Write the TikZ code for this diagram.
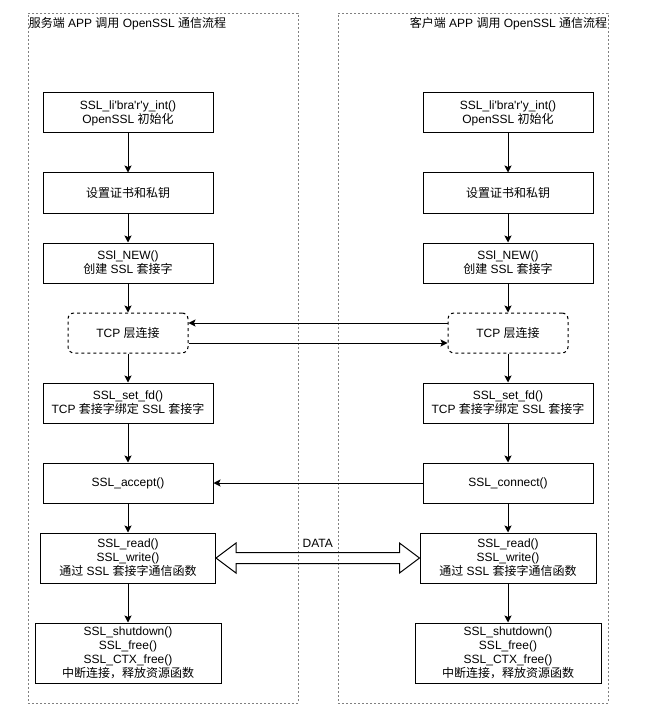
\documentclass[tikz,border=0pt]{standalone}
\usepackage{fontspec}
\setmainfont{Liberation Sans}
\newfontfamily\zhfont{Noto Sans CJK SC}
\newcommand{\zh}[1]{{\zhfont #1}}
\usetikzlibrary{calc, arrows.meta, positioning}

\begin{document}
\begin{tikzpicture}
    [
        x=1pt, y=1pt, node distance=70pt, auto,
        >={Stealth[length=7pt,width=7pt,inset=1.5pt]},
        font=\fontsize{12pt}{14pt}\selectfont,
        box/.style={draw, line width=1pt, align=center, inner sep=0pt, minimum width=170pt, minimum height=40pt},
        tcpbox/.style={draw, line width=1pt, dash pattern=on 3pt off 3pt, rounded corners=6pt, align=center, inner sep=0pt, minimum width=120pt, minimum height=40pt},
        lane/.style={draw=gray, line width=0.8pt, dash pattern=on 2pt off 2pt, inner sep=0pt, minimum width=270pt, minimum height=690pt}
    ]
    \tikzstyle{line} = [draw, ->, line width=1pt]
    \tikzstyle{lanetitle} = [inner xsep=1pt, inner ysep=2pt, yshift=-3pt]

    \useasboundingbox (0,0) rectangle (657,-714);

    % Lanes
    \node[lane] (server) at (163,-358) {};
    \node[lane] (client) at (473,-358) {};
    \node[lanetitle, anchor=north west] (server_title) at (server.north west) {\zh{服务端} APP \zh{调用} OpenSSL \zh{通信流程}};
    \node[lanetitle, anchor=north east] (client_title) at (client.north east) {\zh{客户端} APP \zh{调用} OpenSSL \zh{通信流程}};

    % Server
    \begin{scope}
        \node[box] (s_init) at (128,-113) {SSL\_li\textquotesingle bra\textquotesingle r\textquotesingle y\_int()\\OpenSSL \zh{初始化}};
        \node[box, below of=s_init, node distance=80pt] (s_cert) {\zh{设置证书和私钥}};
        \node[box, below of=s_cert] (s_new) {SSl\_NEW()\\\zh{创建} SSL \zh{套接字}};
        \node[tcpbox, below of=s_new] (s_tcp) {TCP \zh{层连接}};
        \node[box, below of=s_tcp] (s_fd) {SSL\_set\_fd()\\TCP \zh{套接字绑定} SSL \zh{套接字}};
        \node[box, below of=s_fd, node distance=80pt] (s_accept) {SSL\_accept()};
        \node[box, below of=s_accept, node distance=75pt, minimum width=175pt, minimum height=50pt] (s_rw) {SSL\_read()\\SSL\_write()\\\zh{通过} SSL \zh{套接字通信函数}};
        \node[box, below of=s_rw, node distance=95pt, minimum width=186pt, minimum height=60pt] (s_free) {SSL\_shutdown()\\SSL\_free()\\SSL\_CTX\_free()\\\zh{中断连接，释放资源函数}};

        \path[line] (s_init) -- (s_cert);
        \path[line] (s_cert) -- (s_new);
        \path[line] (s_new) -- (s_tcp);
        \path[line] (s_tcp) -- (s_fd);
        \path[line] (s_fd) -- (s_accept);
        \path[line] (s_accept) -- (s_rw);
        \path[line] (s_rw) -- (s_free);
    \end{scope}

    % Client
    \begin{scope}[shift={(380,0)}]
        \node[box] (c_init) at (128,-113) {SSL\_li\textquotesingle bra\textquotesingle r\textquotesingle y\_int()\\OpenSSL \zh{初始化}};
        \node[box, below of=c_init, node distance=80pt] (c_cert) {\zh{设置证书和私钥}};
        \node[box, below of=c_cert] (c_new) {SSl\_NEW()\\\zh{创建} SSL \zh{套接字}};
        \node[tcpbox, below of=c_new] (c_tcp) {TCP \zh{层连接}};
        \node[box, below of=c_tcp] (c_fd) {SSL\_set\_fd()\\TCP \zh{套接字绑定} SSL \zh{套接字}};
        \node[box, below of=c_fd, node distance=80pt] (c_connect) {SSL\_connect()};
        \node[box, below of=c_connect, node distance=75pt, minimum width=176pt, minimum height=50pt] (c_rw) {SSL\_read()\\SSL\_write()\\\zh{通过} SSL \zh{套接字通信函数}};
        \node[box, below of=c_rw, node distance=95pt, minimum width=186pt, minimum height=60pt] (c_free) {SSL\_shutdown()\\SSL\_free()\\SSL\_CTX\_free()\\\zh{中断连接，释放资源函数}};

        \path[line] (c_init) -- (c_cert);
        \path[line] (c_cert) -- (c_new);
        \path[line] (c_new) -- (c_tcp);
        \path[line] (c_tcp) -- (c_fd);
        \path[line] (c_fd) -- (c_connect);
        \path[line] (c_connect) -- (c_rw);
        \path[line] (c_rw) -- (c_free);
    \end{scope}

    % Between the two sides
    \path[line] ([yshift=10pt]c_tcp.west) -- ([yshift=10pt]s_tcp.east);
    \path[line] ([yshift=-10pt]s_tcp.east) -- ([yshift=-10pt]c_tcp.west);
    \path[line] (c_connect) -- (s_accept);

    \draw[line width=1pt] (s_rw.east) -- ++(20,15) -- ++(0,-9.5) -- ($(c_rw.west)+(-20,5.5)$) -- ++(0,9.5) -- (c_rw.west) -- ++(-20,-15) -- ++(0,9.5) -- ($(s_rw.east)+(20,-5.5)$) -- ++(0,-9.5) -- cycle;
    \node (data) at ($(s_rw.east)!0.5!(c_rw.west)+(0,15)$) {DATA};

\end{tikzpicture}
\end{document}
